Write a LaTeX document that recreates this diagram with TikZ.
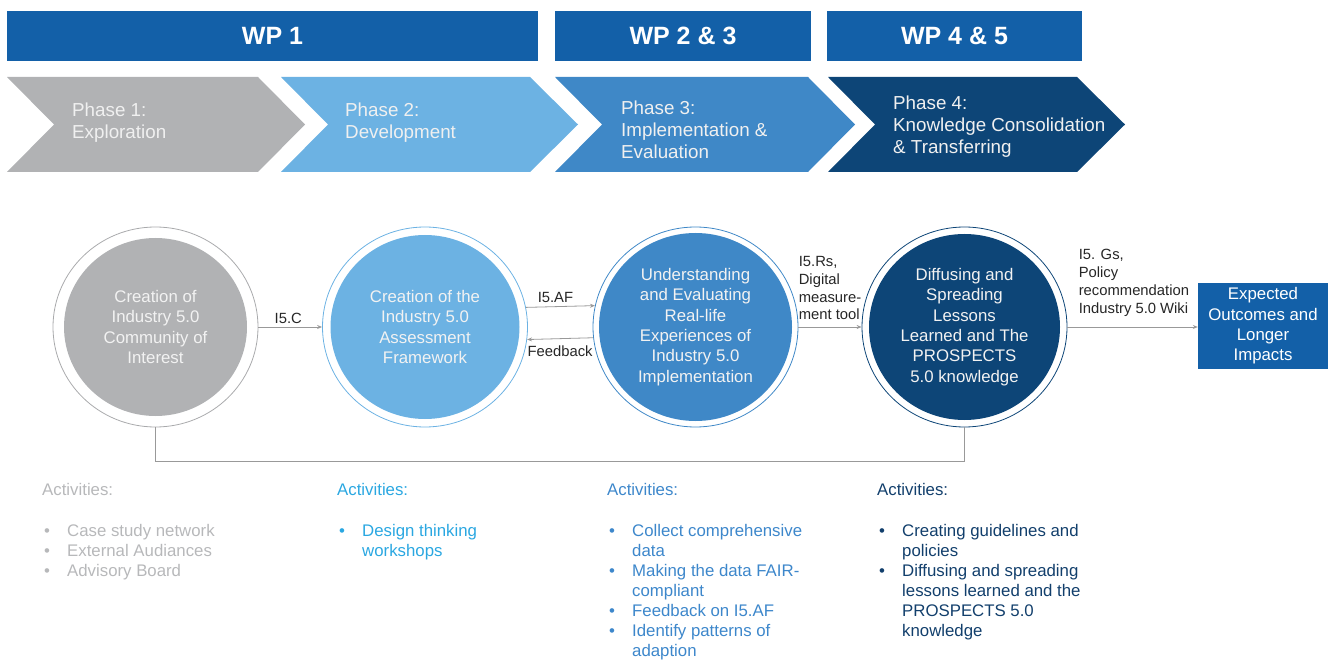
\documentclass[tikz,border=0pt]{standalone}
\usepackage{fontspec}
\setmainfont{Liberation Sans}
\usepackage{tikz}
\usetikzlibrary{shapes.geometric,arrows.meta}
\definecolor{wpblue}{HTML}{1360A8}
\definecolor{phasegray}{HTML}{B1B2B4}
\definecolor{ringgray}{HTML}{A9AAAC}
\definecolor{phaselight}{HTML}{6CB2E3}
\definecolor{phasemid}{HTML}{3F88C7}
\definecolor{phasedark}{HTML}{0D4577}
\definecolor{linkgray}{HTML}{999999}
\definecolor{actgray}{HTML}{B7B8BA}
\definecolor{actlight}{HTML}{2AA7E1}
\definecolor{actmid}{HTML}{3D87CB}
\definecolor{actdark}{HTML}{123F6C}
\tikzset{
	wpbar/.style={fill=wpblue, text=white, minimum height=50pt, inner sep=0pt, font=\fontsize{25}{29}\selectfont\bfseries},
	phaselabel/.style={anchor=west, align=left, inner sep=0pt, text=white!94!black, font=\fontsize{18.8}{22}\selectfont},
	phasecircle/.style n args={3}{ellipse, draw=#1, line width=0.8pt, minimum width=205pt, minimum height=200pt, inner sep=0pt, align=center, text=white!95!black, font=\fontsize{16.8}{20.3}\selectfont, path picture={\fill[#2] (path picture bounding box.center) ellipse [x radius=102.5pt-#3pt, y radius=100pt-#3pt];}},
	link/.style={draw=linkgray, line width=0.8pt, -{Stealth[length=5pt, width=4pt]}},
	linklabel/.style={font=\fontsize{14.8}{17.8}\selectfont, text=black!85, align=left},
	activities/.style={anchor=base west, inner sep=0pt, font=\fontsize{16.8}{20}\selectfont}
}
\begin{document}
\begin{tikzpicture}[x=1pt, y=-1pt]
	\useasboundingbox (0,0) rectangle (1328,660);
	% work packages
	\node [wpbar, minimum width=531pt] (0) at (272.5, 36) {WP 1};
	\node [wpbar, minimum width=256pt] (1) at (683, 36) {WP 2 \& 3};
	\node [wpbar, minimum width=255pt] (2) at (954.5, 36) {WP 4 \& 5};
	% phases
	\fill [phasegray] (7,77) -- (258,77) -- (305,124.5) -- (258,172) -- (7,172) -- (54,124.5) -- cycle;
	\fill [phaselight] (281,77) -- (530,77) -- (578,124.5) -- (530,172) -- (281,172) -- (328,124.5) -- cycle;
	\fill [phasemid] (555,77) -- (808,77) -- (855,124.5) -- (808,172) -- (555,172) -- (602,124.5) -- cycle;
	\fill [phasedark] (828,77) -- (1077,77) -- (1125,124.5) -- (1077,172) -- (828,172) -- (875,124.5) -- cycle;
	\node [phaselabel] (3) at (72, 122.7) {Phase 1:\\Exploration};
	\node [phaselabel] (4) at (345, 122.7) {Phase 2:\\Development};
	\node [phaselabel] (5) at (621, 129.9) {Phase 3:\\Implementation \&\\Evaluation};
	\node [phaselabel] (6) at (893, 126.8) {Phase 4:\\Knowledge Consolidation\\\& Transferring};
	% circles
	\node [phasecircle={ringgray}{phasegray}{11}] (8) at (155.5, 327) {Creation of\\Industry 5.0\\Community of\\Interest};
	\node [phasecircle={phaselight}{phaselight}{8}] (9) at (425, 327) {Creation of the\\Industry 5.0\\Assessment\\Framework};
	\node [phasecircle={phasemid}{phasemid}{6}] (10) at (695.5, 327) {Understanding\\and Evaluating\\Real-life\\Experiences of\\Industry 5.0\\Implementation};
	\node [phasecircle={phasedark}{phasedark}{7}] (11) at (964.5, 327) {Diffusing and\\Spreading\\Lessons\\Learned and The\\PROSPECTS\\5.0 knowledge};
	\node [fill=wpblue, text=white, minimum width=130pt, minimum height=85pt, inner sep=0pt, align=center, font=\fontsize{16.8}{20.3}\selectfont] (12) at (1263, 326) {Expected\\Outcomes and\\Longer\\Impacts};
	% edges
	\draw [link] (8) -- (9) node [linklabel, midway, above, xshift=-2pt] {I5.C};
	\draw [link] (9.11.8) -- (10.168.2) node [linklabel, midway, above, xshift=-5pt] {I5.AF};
	\draw [link] (10.186.4) -- (9.353.6) node [linklabel, midway, below=3pt] {Feedback};
	\draw [link] (10) -- (11) node [linklabel, pos=0, anchor=south west, inner sep=0pt, yshift=6.5pt] {I5.Rs,\\Digital\\measure-\\ment tool};
	\draw [link] (11.east) -- (11.east -| 12.west) node [linklabel, pos=0, anchor=south west, inner sep=0pt, xshift=11pt, yshift=10.5pt] {I5. Gs,\\Policy\\recommendation\\Industry 5.0 Wiki};
	\draw [link, -] (8.south) -- ++(0,34) -| (11.south);
	% activities
	\node [activities, text=actgray] (13) at (42, 495) {\begin{tabular}[t]{@{\hspace{2pt}}p{23pt}@{}l@{}}
		\multicolumn{2}{@{}l@{}}{Activities:}\\[21.5pt]
		\textbullet & Case study network\\
		\textbullet & External Audiances\\
		\textbullet & Advisory Board
	\end{tabular}};
	\node [activities, text=actlight] (14) at (337, 495) {\begin{tabular}[t]{@{\hspace{2pt}}p{23pt}@{}l@{}}
		\multicolumn{2}{@{}l@{}}{Activities:}\\[21.5pt]
		\textbullet & Design thinking\\
		& workshops
	\end{tabular}};
	\node [activities, text=actmid] (15) at (607, 495) {\begin{tabular}[t]{@{\hspace{2pt}}p{23pt}@{}l@{}}
		\multicolumn{2}{@{}l@{}}{Activities:}\\[21.5pt]
		\textbullet & Collect comprehensive\\
		& data\\
		\textbullet & Making the data FAIR-\\
		& compliant\\
		\textbullet & Feedback on I5.AF\\
		\textbullet & Identify patterns of\\
		& adaption
	\end{tabular}};
	\node [activities, text=actdark] (16) at (877, 495) {\begin{tabular}[t]{@{\hspace{2pt}}p{23pt}@{}l@{}}
		\multicolumn{2}{@{}l@{}}{Activities:}\\[21.5pt]
		\textbullet & Creating guidelines and\\
		& policies\\
		\textbullet & Diffusing and spreading\\
		& lessons learned and the\\
		& PROSPECTS 5.0\\
		& knowledge
	\end{tabular}};
\end{tikzpicture}
\end{document}
